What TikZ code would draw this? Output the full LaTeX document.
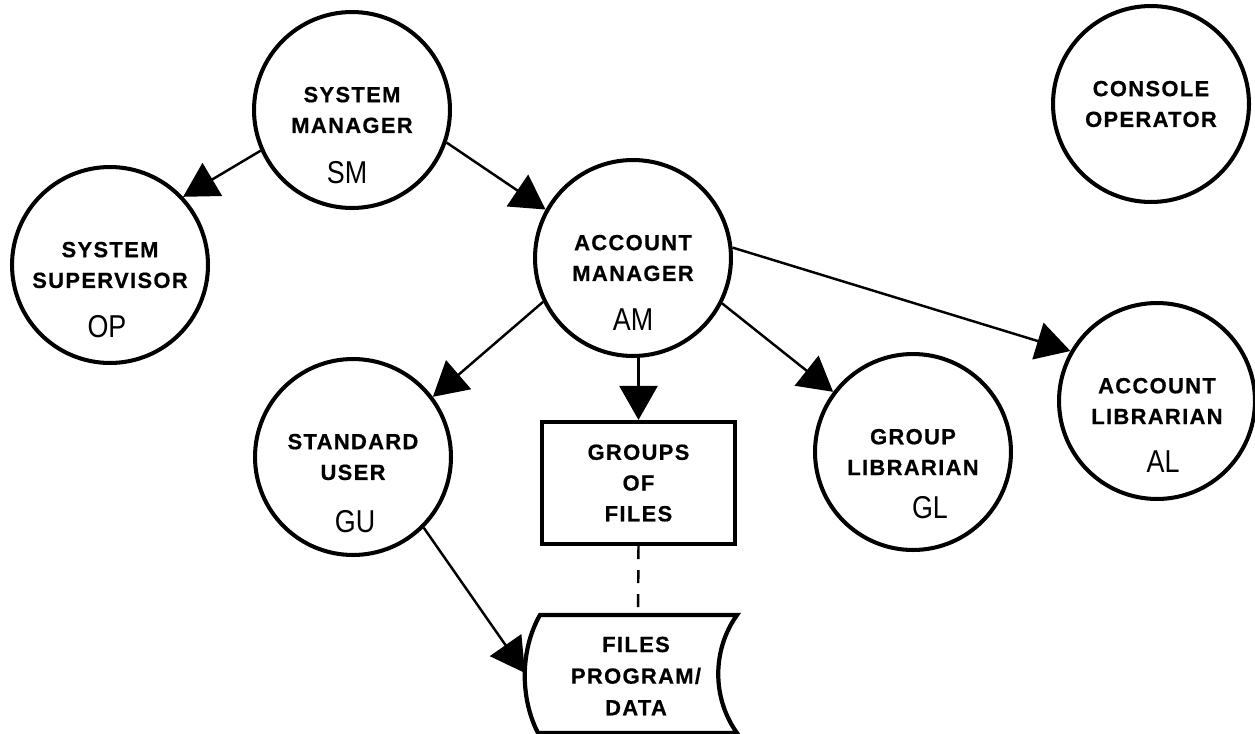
\documentclass[tikz,border=0pt]{standalone}
\usepackage{fontspec}
\setmainfont{Liberation Sans}
\newfontfamily\lblfont[LetterSpace=6,BoldFeatures={FakeBold=0.6}]{Liberation Sans}
\newfontfamily\handfont[FakeStretch=0.85]{Liberation Sans}
\usetikzlibrary{arrows.meta,calc}
\begin{document}
\begin{tikzpicture}[x=0.02cm,y=-0.02cm,
  role/.style={circle,draw,line width=2.3pt,minimum size=3.92cm,inner sep=0pt,
    align=center,font={\lblfont\bfseries\fontsize{12.5}{17.5}\selectfont}},
  filebox/.style={draw,line width=2.4pt,minimum width=3.86cm,minimum height=2.44cm,
    inner sep=0pt,align=center,font={\lblfont\bfseries\fontsize{12.5}{17.5}\selectfont}},
  filetext/.style={inner sep=0pt,align=center,font={\lblfont\bfseries\fontsize{12.5}{18}\selectfont}},
  tag/.style={inner sep=0pt,font={\handfont\fontsize{18}{18}\selectfont}},
  link/.style={line width=1.4pt,-{Triangle[length=0.68cm,width=0.76cm]}},
  soft/.style={line width=1.4pt,dash pattern=on 0.26cm off 0.22cm}
]
\useasboundingbox (0,0) rectangle (1255,734);

% user roles
\node[role] (SM) at (352,110)  {SYSTEM\\MANAGER};
\node[role] (SS) at (110,265)  {SYSTEM\\SUPERVISOR};
\node[role] (AM) at (633,258)  {ACCOUNT\\MANAGER};
\node[role] (CO) at (1151,104) {CONSOLE\\OPERATOR};
\node[role] (SU) at (353,457)  {STANDARD\\USER};
\node[role] (GL) at (913,452)  {GROUP\\LIBRARIAN};
\node[role] (AL) at (1157,401) {ACCOUNT\\LIBRARIAN};

% capability codes
\node[tag] (tSM) at ($(SM)+(-5,63)$) {SM};
\node[tag] (tSS) at ($(SS)+(-3,62)$) {OP};
\node[tag] (tAM) at ($(AM)+(0,62)$)  {AM};
\node[tag] (tSU) at ($(SU)+(2,65)$)  {GU};
\node[tag] (tGL) at ($(GL)+(17,56)$) {GL};
\node[tag] (tAL) at ($(AL)+(6,61)$)  {AL};

% file groups
\node[filebox] (grp) at (638.5,483) {GROUPS\\OF\\FILES};

% stored files
\draw[line width=2.4pt] (540,615) -- (737,615)
  .. controls (712,650) and (712,698) .. (737,733) -- (538,733)
  .. controls (520,698) and (520,650) .. (540,615) -- cycle;
\node[filetext] (files) at (636,676) {FILES\\PROGRAM/\\DATA};
\coordinate (filesW) at (525,673);
\coordinate (filesN) at (638,615);

% connectors
\draw[link] (SM.204) -- (SS.43);
\draw[link] (SM.341) -- (AM.151);
\draw[link] (AM.206) -- (SU.37);
\draw[link] (grp.north |- AM.south) -- (grp.north);
\draw[link] (AM.333) -- (GL.143);
\draw[link] (AM.6) -- (AL.150);
\draw[link] (SU.315) -- (filesW);
\draw[soft] (grp.south) -- (filesN);
\end{tikzpicture}
\end{document}
